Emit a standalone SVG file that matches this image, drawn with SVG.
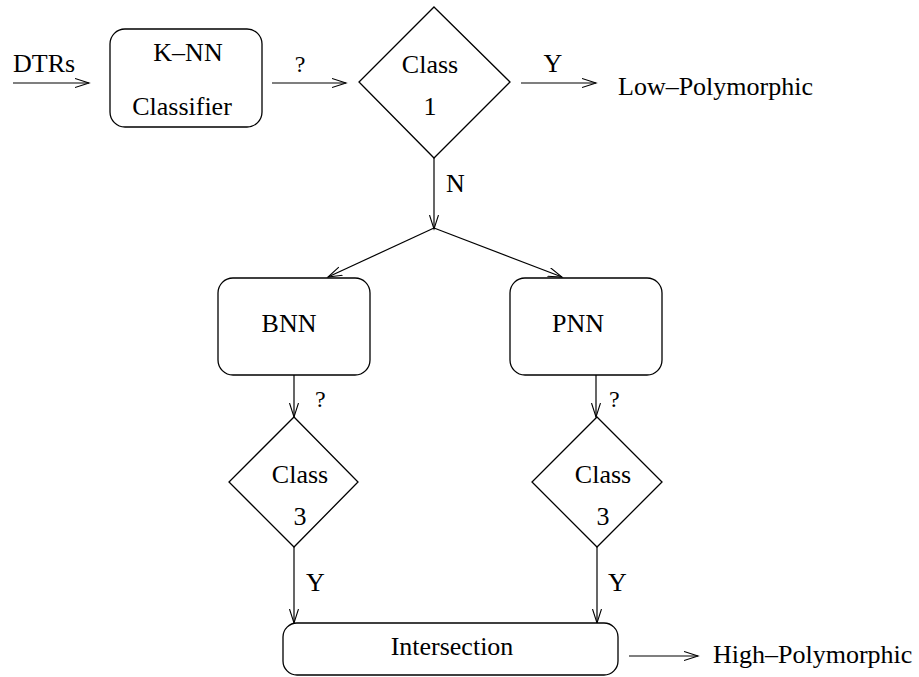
<svg xmlns="http://www.w3.org/2000/svg" width="919" height="677" viewBox="0 0 919 677">
<defs>
<marker id="arr" markerUnits="userSpaceOnUse" markerWidth="16" markerHeight="12" refX="14" refY="5" orient="auto">
<path d="M0,0.5 L14,5 L0,9.5" fill="none" stroke="#000" stroke-width="1.1"/>
</marker>
</defs>
<style>
.s{fill:#fff;stroke:#000;stroke-width:1.3}
.l{fill:none;stroke:#000;stroke-width:1.2;marker-end:url(#arr)}
text{font-family:"Liberation Serif","Times New Roman",serif;font-size:26px;fill:#000}
.m{text-anchor:middle}
.q{font-size:24px}
</style>
<rect width="919" height="677" fill="#fff"/>
<g id="connectors">
<line class="l" x1="13" y1="83" x2="89" y2="83"/>
<line class="l" x1="272" y1="83" x2="346" y2="83"/>
<line class="l" x1="521" y1="83" x2="596" y2="83"/>
<line class="l" x1="434" y1="158" x2="434" y2="229"/>
<line class="l" x1="434" y1="228" x2="328" y2="277"/>
<line class="l" x1="434" y1="228" x2="562" y2="277"/>
<line class="l" x1="294" y1="375" x2="294" y2="417"/>
<line class="l" x1="596" y1="375" x2="596" y2="417"/>
<line class="l" x1="294" y1="547" x2="294" y2="623"/>
<line class="l" x1="597" y1="547" x2="597" y2="623"/>
<line class="l" x1="629" y1="656" x2="698" y2="656"/>
<text x="13" y="72">DTRs</text>
<text x="300" y="72" class="m q">?</text>
<text x="553" y="72" class="m">Y</text>
<text x="446" y="192">N</text>
<text x="315" y="407" class="q">?</text>
<text x="609" y="407" class="q">?</text>
<text x="306" y="591">Y</text>
<text x="608" y="591">Y</text>
</g>
<g id="knn">
<rect class="s" x="110" y="29" width="152" height="98" rx="15" ry="15"/>
<text x="188" y="61" class="m">K–NN</text>
<text x="182" y="115" class="m">Classifier</text>
</g>
<g id="class1">
<polygon class="s" points="434,7 510,82 434,158 359,82"/>
<text x="430" y="73" class="m">Class</text>
<text x="430" y="115" class="m">1</text>
</g>
<text id="low" x="618" y="95">Low–Polymorphic</text>
<g id="bnn">
<rect class="s" x="218" y="278" width="152" height="97" rx="15" ry="15"/>
<text x="289" y="332" class="m">BNN</text>
</g>
<g id="pnn">
<rect class="s" x="510" y="278" width="152" height="97" rx="15" ry="15"/>
<text x="578" y="332" class="m">PNN</text>
</g>
<g id="class3a">
<polygon class="s" points="294,417 358,482 294,547 229,482"/>
<text x="300" y="483" class="m">Class</text>
<text x="300" y="525" class="m">3</text>
</g>
<g id="class3b">
<polygon class="s" points="597,417 662,482 597,547 532,482"/>
<text x="603" y="483" class="m">Class</text>
<text x="603" y="525" class="m">3</text>
</g>
<g id="intersection">
<rect class="s" x="283" y="623" width="335" height="52" rx="14" ry="14"/>
<text x="452" y="655" class="m">Intersection</text>
</g>
<text id="high" x="713" y="663">High–Polymorphic</text>
</svg>
